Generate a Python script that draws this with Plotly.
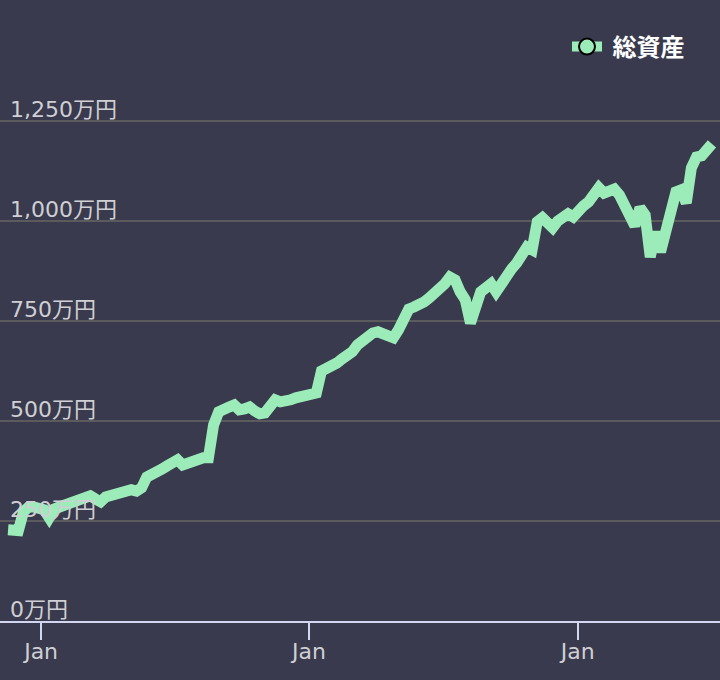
import pandas as pd
import plotly.graph_objects as go

# Weekly observation dates (Nov 2022 – Jul 2025)
start_date = "2022-11-17"
n_weeks = 138
dates = pd.date_range(start_date, periods=n_weeks, freq="7D")

# 総資産 (unit: 万円)
total_assets = [
    228, 225, 226, 273, 285, 285, 283, 278, 258, 280,
    285, 290, 295, 300, 305, 308, 313, 305, 298, 310,
    315, 318, 320, 323, 328, 325, 333, 360, 365, 368,
    380, 388, 393, 403, 390, 395, 400, 410, 408, 408,
    490, 523, 533, 535, 540, 528, 530, 535, 525, 518,
    520, 543, 553, 548, 548, 553, 558, 560, 563, 565,
    570, 625, 630, 635, 645, 655, 663, 673, 690, 703,
    715, 720, 723, 718, 718, 708, 728, 763, 780, 785,
    788, 798, 808, 818, 828, 843, 860, 853, 823, 803,
    745, 798, 823, 833, 843, 823, 845, 863, 880, 895,
    918, 935, 928, 998, 1008, 995, 983, 1000, 1013, 1018,
    1010, 1030, 1038, 1048, 1070, 1083, 1070, 1078, 1080, 1065,
    1040, 1018, 988, 1033, 1015, 910, 973, 923, 978, 1013,
    1073, 1078, 1045, 1133, 1160, 1163, 1175, 1193,
]

series_name = "総資産"
y_tick_values = [0, 250, 500, 750, 1000, 1250]
y_tick_labels = ["0万円", "250万円", "500万円", "750万円", "1,000万円", "1,250万円"]
x_tick_values = ["2023-01-01", "2024-01-01", "2025-01-01"]
x_tick_labels = ["Jan", "Jan", "Jan"]
x_range = ["2022-11-06", "2025-07-14"]
y_range = [0, 1352.5]

line_color = "#9cecba"
bg = "#393a4d"
label_color = "#cfcfd4"
font_family = "DejaVu Sans, Noto Sans CJK JP, sans-serif"

fig = go.Figure()
fig.add_trace(go.Scatter(
    x=dates, y=total_assets, mode="lines", name=series_name,
    line=dict(color=line_color, width=11), showlegend=False,
    hovertemplate="%{x|%Y-%m-%d}<br>%{y:,}万円<extra></extra>",
))
# legend entry
fig.add_trace(go.Scatter(
    x=[None], y=[None], mode="lines+markers", name=" " + series_name,
    line=dict(color=line_color, width=10),
    marker=dict(color=line_color, size=16, line=dict(color="#000000", width=2)),
    showlegend=True,
))

# y tick labels drawn inside the plot, just above each grid line
for v, t in zip(y_tick_values, y_tick_labels):
    fig.add_annotation(
        x=0, xref="paper", y=v, yref="y", text=t, showarrow=False,
        xanchor="left", yanchor="bottom", xshift=8, yshift=-3,
        font=dict(family=font_family, size=22, color=label_color),
    )

fig.update_layout(
    width=720, height=680,
    paper_bgcolor=bg, plot_bgcolor=bg,
    margin=dict(l=0, r=0, t=80, b=59),
    font=dict(family=font_family, size=22, color=label_color),
    showlegend=True,
    legend=dict(
        orientation="h", xref="container", yref="container",
        x=567 / 720, xanchor="left", y=1 - 47 / 680, yanchor="middle",
        bgcolor="rgba(0,0,0,0)",
        font=dict(family="Noto Sans CJK JP, DejaVu Sans", size=24, color="#ffffff", weight="bold"),
    ),
    xaxis=dict(
        type="date", range=x_range,
        tickmode="array", tickvals=x_tick_values, ticktext=x_tick_labels,
        showgrid=False, zeroline=False,
        showline=True, linecolor="#d2d6f0", linewidth=2,
        ticks="outside", ticklen=17, tickwidth=2, tickcolor="#d2d6f0",
        ticklabelstandoff=-7,
        tickfont=dict(size=22, color=label_color),
    ),
    yaxis=dict(
        range=y_range, tickmode="array", tickvals=y_tick_values,
        showticklabels=False,
        showgrid=True, gridcolor="#5b5a5c", gridwidth=2,
        zeroline=False, showline=False, ticks="",
    ),
)

fig.write_html("out.html", config={"displayModeBar": False},
               post_script="document.body.style.margin='0px';")
